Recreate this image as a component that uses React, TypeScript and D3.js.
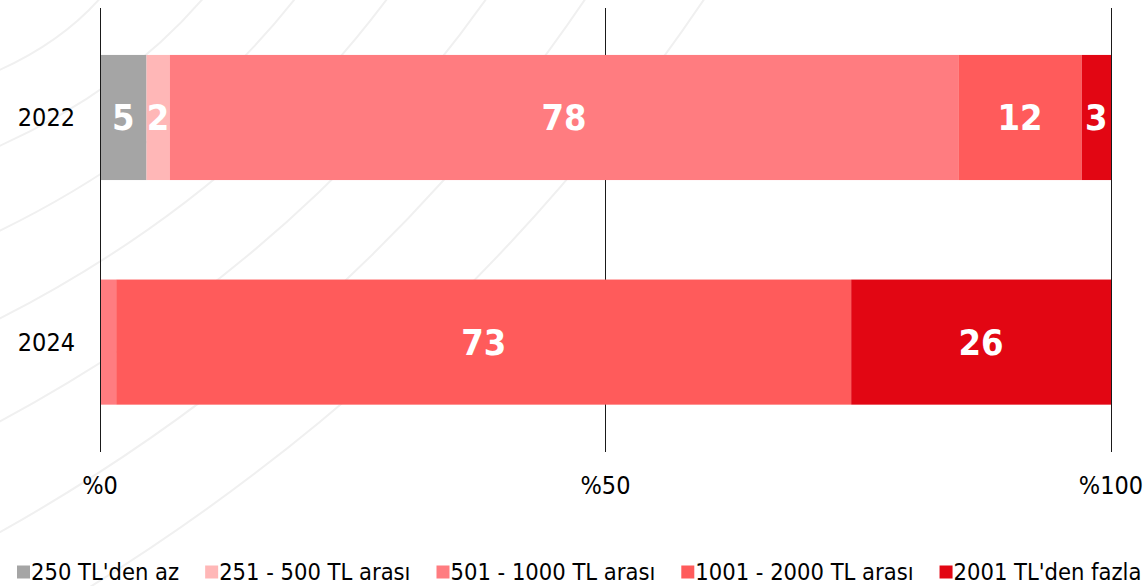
import React, { useEffect, useRef } from "react";
import * as d3 from "d3";

const categories = ["2022", "2024"];
const seriesNames = [
  "250 TL'den az",
  "251 - 500 TL arası",
  "501 - 1000 TL arası",
  "1001 - 2000 TL arası",
  "2001 TL'den fazla",
];
const seriesColors = ["#a5a5a5", "#ffb7b7", "#ff7c80", "#ff5b5b", "#e20613"];
const values2022 = [4.6, 2.3, 78.0, 12.2, 2.9];
const values2024 = [0.0, 0.1, 1.5, 72.7, 25.7];
const xTicks = [0, 50, 100];
// decorative background arcs: [left-edge y, top-edge x]
const bgArcs = [
  [69, 100],
  [145, 203],
  [230, 295],
  [318, 387],
  [421, 486],
  [532, 585],
  [640, 704],
];

const W = 1145;
const H = 586;
const FONT = "'DejaVu Sans Condensed', 'DejaVu Sans', sans-serif";

export default function App() {
  const ref = useRef<SVGSVGElement | null>(null);

  useEffect(() => {
    const svg = d3.select(ref.current);
    svg.selectAll("*").remove();

    const x = d3.scaleLinear().domain([0, 100]).range([100, 1111]);
    const y = d3
      .scaleBand<string>()
      .domain(categories)
      .range([8, 451.6])
      .paddingInner(0.443)
      .paddingOuter(0.209);

    // background arcs
    const bg = svg.append("g");
    bgArcs.forEach(([L, T]) => {
      const p = d3.path();
      p.moveTo(-5, L + 3);
      p.quadraticCurveTo(T * 0.62, L * 0.62, T + 3, -5);
      bg.append("path")
        .attr("d", p.toString())
        .attr("fill", "none")
        .attr("stroke", "#f0f0f0")
        .attr("stroke-width", 2);
    });

    // gridlines
    svg
      .append("g")
      .selectAll("line")
      .data(xTicks)
      .join("line")
      .attr("x1", (d) => x(d))
      .attr("x2", (d) => x(d))
      .attr("y1", 8)
      .attr("y2", 452)
      .attr("stroke", "#1a1a1a")
      .attr("stroke-width", 1)
      .attr("shape-rendering", "crispEdges");

    const rows = [values2022, values2024];
    const stacked = rows.map((vals, ri) => {
      let acc = 0;
      return vals.map((v, si) => {
        const s = { cat: categories[ri], si, v, x0: acc, x1: acc + v };
        acc += v;
        return s;
      });
    });

    const bars = svg.append("g");
    stacked.forEach((row) => {
      row.forEach((s) => {
        if (s.v <= 0) return;
        bars
          .append("rect")
          .attr("x", x(s.x0))
          .attr("y", y(s.cat)!)
          .attr("width", x(s.x1) - x(s.x0))
          .attr("height", y.bandwidth())
          .attr("fill", seriesColors[s.si]);
      });
    });
    // redraw the 0 axis line over bars
    svg
      .append("line")
      .attr("x1", x(0))
      .attr("x2", x(0))
      .attr("y1", 8)
      .attr("y2", 452)
      .attr("stroke", "#1a1a1a")
      .attr("shape-rendering", "crispEdges");

    const labels = svg.append("g");
    stacked.forEach((row) => {
      row.forEach((s) => {
        if (s.v < 2) return;
        labels
          .append("text")
          .attr("x", (x(s.x0) + x(s.x1)) / 2)
          .attr("y", y(s.cat)! + y.bandwidth() / 2)
          .attr("dy", "0.36em")
          .attr("text-anchor", "middle")
          .attr("fill", "#ffffff")
          .attr("font-family", FONT)
          .attr("font-weight", "bold")
          .attr("font-size", 36)
          .text(String(Math.round(s.v)));
      });
    });

    // y labels
    svg
      .append("g")
      .selectAll("text")
      .data(categories)
      .join("text")
      .attr("x", 75)
      .attr("y", (d) => y(d)! + y.bandwidth() / 2)
      .attr("dy", "0.36em")
      .attr("text-anchor", "end")
      .attr("font-family", FONT)
      .attr("font-size", 25)
      .attr("fill", "#000")
      .text((d) => d);

    // x labels
    svg
      .append("g")
      .selectAll("text")
      .data(xTicks)
      .join("text")
      .attr("x", (d) => x(d))
      .attr("y", 485)
      .attr("dy", "0.36em")
      .attr("text-anchor", "middle")
      .attr("font-family", FONT)
      .attr("font-size", 25)
      .attr("fill", "#000")
      .text((d) => "%" + d);

    // legend
    const lg = svg.append("g");
    let cx = 17;
    seriesNames.forEach((name, i) => {
      lg.append("rect")
        .attr("x", cx)
        .attr("y", 565.5)
        .attr("width", 13)
        .attr("height", 13)
        .attr("fill", seriesColors[i]);
      const t = lg
        .append("text")
        .attr("x", cx + 14)
        .attr("y", 572)
        .attr("dy", "0.36em")
        .attr("font-family", FONT)
        .attr("font-size", 23.5)
        .attr("fill", "#000")
        .text(name);
      const w = (t.node() as SVGTextElement).getComputedTextLength();
      cx = cx + 14 + w + 26;
    });
  }, []);

  return (
    <svg
      ref={ref}
      width={W}
      height={H}
      style={{ position: "absolute", left: 0, top: 0, background: "#fff" }}
    />
  );
}
